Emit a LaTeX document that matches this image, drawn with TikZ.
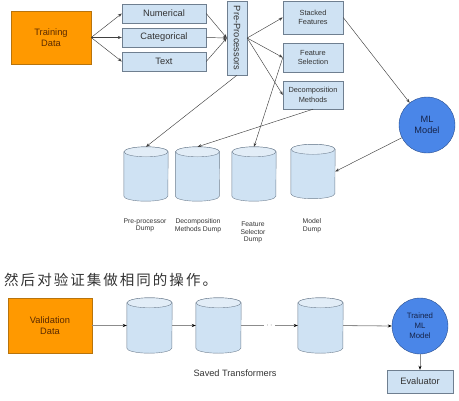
\documentclass[tikz,border=0pt]{standalone}
\usepackage{fontspec}
\setmainfont{Liberation Sans}
\newfontfamily\cjk[LetterSpace=14]{Noto Sans CJK SC}
\usepackage{tikz}
\usetikzlibrary{positioning}
\usetikzlibrary{arrows.meta}
\usepackage{xcolor}
\definecolor{dataorange}{HTML}{FF9900}
\definecolor{dataline}{HTML}{B8740C}
\definecolor{datatext}{HTML}{5A2A00}
\definecolor{boxfill}{HTML}{CFE2F3}
\definecolor{boxline}{HTML}{6F7F90}
\definecolor{topfill}{HTML}{E2EDF7}
\definecolor{mlblue}{HTML}{4A86E8}
\definecolor{mlline}{HTML}{2A4F8F}
\definecolor{mltext}{HTML}{16244A}
\definecolor{inktext}{HTML}{333333}

% storage drum drawn round a named node: #1 node, #2 half width
\newcommand{\canister}[2]{%
  \draw[draw=boxline, fill=boxfill] ([yshift=-5pt]#1.north west) -- ([yshift=5pt]#1.south west)
    arc[start angle=180, end angle=360, x radius=#2, y radius=5pt] -- ([yshift=-5pt]#1.north east)
    arc[start angle=0, end angle=180, x radius=#2, y radius=5pt] -- cycle;
  \draw[draw=boxline, fill=topfill] ([yshift=-5pt]#1.north) ellipse[x radius=#2, y radius=5pt];
}

\begin{document}
\begin{tikzpicture}[x=1pt, y=-1pt,
  databox/.style={draw=dataline, fill=dataorange, inner sep=0pt, text=datatext,
    font=\fontsize{9.3}{11}\selectfont, align=center},
  stagebox/.style={draw=boxline, fill=boxfill, inner sep=0pt, text=inktext,
    font=\fontsize{9.3}{11}\selectfont, align=center},
  smallbox/.style={stagebox, font=\fontsize{7.4}{9.5}\selectfont},
  model/.style={draw=mlline, fill=mlblue, circle, inner sep=0pt, minimum size=56pt,
    text=mltext, align=center, font=\fontsize{9.2}{11.5}\selectfont},
  dump/.style={rectangle, inner sep=0pt, minimum width=44pt, minimum height=54pt},
  caption/.style={text=inktext, align=center, font=\fontsize{6.8}{7.6}\selectfont},
  link/.style={draw=black!75, line width=0.45pt, -{Stealth[length=4pt, width=3pt]}},
  flow/.style={draw=black!45, line width=0.8pt, -{Stealth[length=4pt, width=3pt, black]}}]
  \useasboundingbox (0,0) rectangle (459,400);

  % training pipeline
  \node[databox, minimum width=80pt, minimum height=53pt] (train) at (51,37.5) {Training\\Data};
  \node[stagebox, minimum width=84pt, minimum height=19pt] (num) at (164,13.5) {Numerical};
  \node[stagebox, minimum width=84pt, minimum height=19pt] (cat) at (164,37.5) {Categorical};
  \node[stagebox, minimum width=84pt, minimum height=19pt] (txt) at (164,61.5) {Text};
  \node[stagebox, minimum width=20pt, minimum height=74pt] (pre) at (237,38) {\rotatebox{-90}{Pre-Processors}};
  \node[smallbox, minimum width=60pt, minimum height=33pt] (stack) at (313,17.5) {Stacked\\Features};
  \node[smallbox, minimum width=60pt, minimum height=29pt] (fsel) at (313,57.5) {Feature\\Selection};
  \node[smallbox, minimum width=60pt, minimum height=28pt] (decomp) at (313,95) {Decomposition\\Methods};
  \node[model] (ml) at (427,125) {ML\\Model};

  \node[dump] (d1) at (146,174) {};
  \node[dump] (d2) at (197.5,174) {};
  \node[dump] (d3) at (254,174) {};
  \node[dump] (d4) at (313,171.5) {};
  \foreach \d in {d1,d2,d3,d4} {\canister{\d}{22pt}}
  \node[caption] at (145,225.5) {Pre-processor\\Dump};
  \node[caption] at (198,225.5) {Decomposition\\Methods Dump};
  \node[caption, anchor=north] at (253,218.5) {Feature\\Selector\\Dump};
  \node[caption] at (312,225.5) {Model\\Dump};

  \draw[link] (train.east) -- (num.west);
  \draw[link] (train.east) -- (cat.west);
  \draw[link] (train.east) -- (txt.west);
  \draw[link] (num.east) -- (pre.west);
  \draw[link] (cat.east) -- (pre.west);
  \draw[link] (txt.east) -- (pre.west);
  \draw[link] (pre.east) -- (stack.west);
  \draw[link] (pre.east) -- (fsel.west);
  \draw[link] (pre.east) -- (decomp.west);
  \draw[link] (pre.south) -- (d1.north);
  \draw[link] (decomp.south) -- (d2.north);
  \draw[link] (fsel.west) -- (d3.north);
  \draw[link] (stack.east) -- (ml);
  \draw[link] (ml) -- (d4.east);

  % validation pipeline
  \node[anchor=west, inner sep=0pt, text=inktext] (note) at (4,280) {\cjk\fontsize{14.5}{16}\selectfont 然后对验证集做相同的操作。};
  \node[databox, minimum width=84pt, minimum height=55pt] (valid) at (50,325.5) {Validation\\Data};
  \node[dump, minimum width=45pt, minimum height=55pt] (s1) at (149.5,325.5) {};
  \node[dump, minimum width=45pt, minimum height=55pt] (s2) at (218.5,325.5) {};
  \node[dump, minimum width=45pt, minimum height=55pt] (s3) at (320.5,325.5) {};
  \foreach \s in {s1,s2,s3} {\canister{\s}{22.5pt}}
  \node[model, font=\fontsize{7.8}{10}\selectfont] (trained) at (420,326) {Trained\\ML\\Model};
  \node[stagebox, minimum width=66pt, minimum height=23pt] (eval) at (420,381.5) {Evaluator};
  \node[text=inktext, font=\fontsize{9.2}{11}\selectfont] (saved) at (235,373) {Saved Transformers};

  \draw[flow] (valid.east) -- (s1.west);
  \draw[flow] (s1.east) -- (s2.west);
  \draw[flow] (s2.east) -- node[fill=white, inner sep=2pt, text=black!70, font=\fontsize{8}{8}\selectfont] {$\cdot\,\cdot$} (s3.west);
  \draw[flow] (s3.east) -- (trained.west);
  \draw[flow, line width=0.6pt] (trained.south) -- (eval.north);
\end{tikzpicture}
\end{document}
